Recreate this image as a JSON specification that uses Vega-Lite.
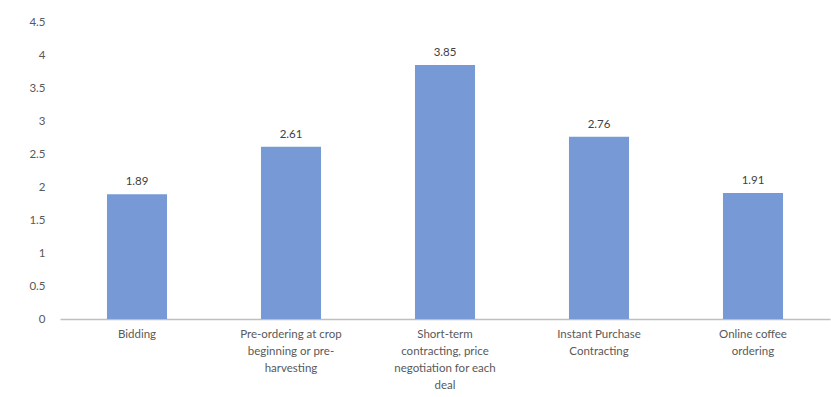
{
  "$schema": "https://vega.github.io/schema/vega-lite/v6.json",
  "width": 770,
  "height": 297,
  "autosize": {"type": "none"},
  "padding": {"left": 60, "top": 22, "right": 1, "bottom": 78},
  "background": "white",
  "config": {"view": {"stroke": null}, "font": "Lato"},
  "data": {"values": [
    {"method": "Bidding", "score": 1.89},
    {"method": "Pre-ordering at crop beginning or pre-harvesting", "score": 2.61},
    {"method": "Short-term contracting, price negotiation for each deal", "score": 3.85},
    {"method": "Instant Purchase Contracting", "score": 2.76},
    {"method": "Online coffee ordering", "score": 1.91}
  ]},
  "encoding": {
    "x": {"field": "method", "type": "nominal", "sort": null,
      "scale": {"paddingInner": 0.61, "paddingOuter": 0.305},
      "axis": {"title": null, "labelAngle": 0, "ticks": false, "domainColor": "#bfbfbf", "domainWidth": 1.5,
        "labelColor": "#595959", "labelFontSize": 11.5, "labelPadding": 9, "labelLineHeight": 17,
        "labelExpr": "datum.value == 'Pre-ordering at crop beginning or pre-harvesting' ? ['Pre-ordering at crop', 'beginning or pre-', 'harvesting'] : datum.value == 'Short-term contracting, price negotiation for each deal' ? ['Short-term', 'contracting, price', 'negotiation for each', 'deal'] : datum.value == 'Instant Purchase Contracting' ? ['Instant Purchase', 'Contracting'] : datum.value == 'Online coffee ordering' ? ['Online coffee', 'ordering'] : datum.value"}},
    "y": {"field": "score", "type": "quantitative",
      "scale": {"domain": [0, 4.5]},
      "axis": {"title": null, "values": [0, 0.5, 1, 1.5, 2, 2.5, 3, 3.5, 4, 4.5], "format": "~g", "domain": false, "ticks": false, "grid": false,
        "labelColor": "#595959", "labelFontSize": 11.5, "labelPadding": 15}}
  },
  "layer": [
    {"mark": {"type": "bar", "color": "#779ad6"}},
    {"mark": {"type": "text", "dy": -12, "color": "#404040", "fontSize": 11.5},
     "encoding": {"text": {"field": "score", "type": "quantitative", "format": ".2f"}}}
  ]
}
